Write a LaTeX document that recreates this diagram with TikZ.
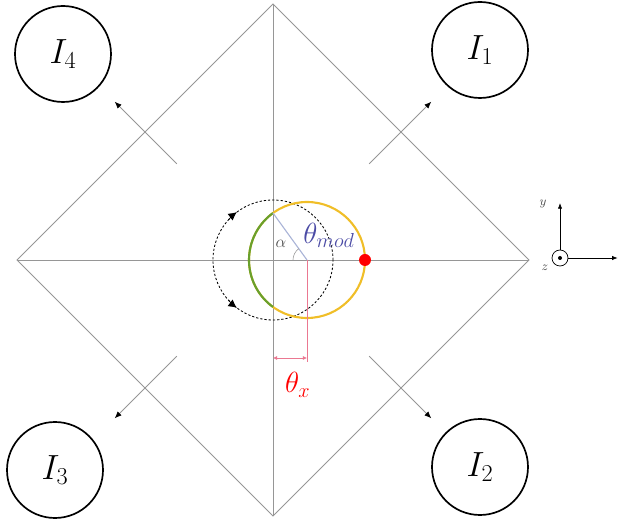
\documentclass[tikz,border=0pt]{standalone}
\usepackage{amsmath,amssymb}
\usepackage{tikz}
\usetikzlibrary{positioning,calc,arrows.meta}

\definecolor{axisgray}{RGB}{150,150,150}
\definecolor{ringyellow}{RGB}{240,190,40}
\definecolor{arcgreen}{RGB}{105,160,45}
\definecolor{dimpink}{RGB}{235,120,145}
\definecolor{modblue}{RGB}{75,75,165}
\definecolor{modline}{RGB}{170,180,215}

\tikzset{
  grayline/.style={axisgray, line width=0.6pt},
  coilnode/.style={circle, draw, line width=1.2pt, minimum size=2.4cm, inner sep=0pt,
    font=\fontsize{26}{30}\selectfont},
  forcearrow/.style={axisgray, line width=0.6pt, -{Latex[length=5pt,width=4pt,black]}},
}

\begin{document}
\begin{tikzpicture}
  % Parameters
  \def\D{6.4}        % half diagonal of the square
  \def\R{1.5}        % radius of dashed circle
  \def\r{1.45}       % radius of yellow circle
  \def\c{0.85}       % offset of yellow circle
  \def\a{125.9}      % angle where yellow circle meets the axis
  \def\h{-2.45}      % height of the theta_x mark

  \useasboundingbox (-6.825,-6.5) rectangle (8.625,6.5);

  % square and axes
  \coordinate (top) at (0,\D);
  \coordinate (bot) at (0,-\D);
  \coordinate (lft) at (-\D,0);
  \coordinate (rgt) at (\D,0);
  \draw[grayline] (top) -- (rgt) -- (bot) -- (lft) -- cycle;
  \draw[grayline] (lft) -- (rgt);
  \draw[grayline] (top) -- (bot);

  % coils
  \node[coilnode] (I1) at (5.175,5.25) {$I_1$};
  \node[coilnode] (I2) at (5.175,-5.175) {$I_2$};
  \node[coilnode] (I3) at (-5.45,-5.25) {$I_3$};
  \node[coilnode] (I4) at (-5.25,5.15) {$I_4$};

  % forces
  \foreach \t in {45,135,225,315} {
    \coordinate (f\t) at (\t:3.4);
    \coordinate (g\t) at (\t:5.6);
    \draw[forcearrow] (f\t) -- (g\t);
  }

  % dashed circle
  \coordinate (o) at (0,0);
  \draw[dash pattern=on 1.6pt off 1.4pt, line width=0.6pt] (o) circle (\R);
  \draw[line width=0.6pt, -{Latex[length=6pt,width=6pt]}] (138:\R) arc (138:127:\R);
  \draw[line width=0.6pt, -{Latex[length=6pt,width=6pt]}] (222:\R) arc (222:233:\R);

  % yellow circle with green part
  \coordinate (m) at (\c,0);
  \draw[ringyellow, line width=1.5pt] (m) circle (\r);
  \draw[arcgreen, line width=1.5pt] ($(m)+(\a:\r)$) arc (\a:360-\a:\r);
  \coordinate (p) at ($(m)+(\a:\r)$);
  \draw[modline, line width=0.8pt] (m) -- (p);
  \draw[axisgray, line width=0.4pt] ($(m)+(\a:0.35)$) arc (\a:180:0.35);
  \node[black!70, font=\large] at (0.2,0.4) {$\alpha$};
  \node[modblue, font=\fontsize{20}{24}\selectfont] at (1.4,0.62) {$\theta_{mod}$};
  \fill[red] ($(m)+(\r,0)$) circle (0.15);

  % theta_x
  \coordinate (q) at (\c,-2.55);
  \draw[dimpink, line width=0.5pt] (m) -- (q);
  \coordinate (d1) at (0,\h);
  \coordinate (d2) at (\c,\h);
  \draw[dimpink, line width=0.5pt, {Latex[length=3pt,width=3pt]}-{Latex[length=3pt,width=3pt]}] (d1) -- (d2);
  \node[red, font=\fontsize{21}{25}\selectfont] at (0.62,-3.12) {$\theta_x$};

  % frame
  \coordinate (zc) at (7.175,0.05);
  \coordinate (yt) at (7.175,1.425);
  \coordinate (xt) at (8.62,0.05);
  \draw[line width=0.5pt, -{Latex[length=4pt,width=3pt]}] (zc) -- (yt);
  \draw[line width=0.5pt, -{Latex[length=4pt,width=3pt]}] (zc) -- (xt);
  \fill[white] (zc) circle (0.2);
  \draw[line width=0.5pt] (zc) circle (0.2);
  \fill (zc) circle (0.05);
  \node[black!70, font=\small] at (6.75,1.4) {$y$};
  \node[black!70, font=\small] at (6.8,-0.2) {$z$};
\end{tikzpicture}
\end{document}
